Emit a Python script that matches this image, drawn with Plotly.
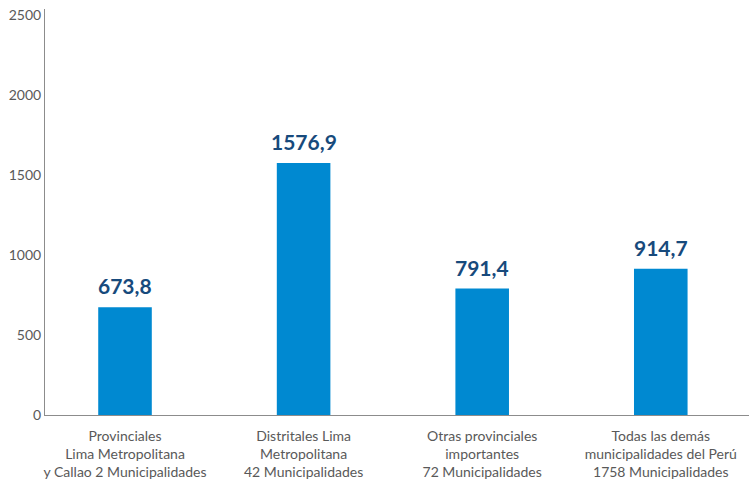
import plotly.graph_objects as go

# Average amounts per group of municipalities
categories = [
    "Provinciales<br>Lima Metropolitana<br>y Callao 2 Municipalidades",
    "Distritales Lima<br>Metropolitana<br>42 Municipalidades",
    "Otras provinciales<br>importantes<br>72 Municipalidades",
    "Todas las demás<br>municipalidades del Perú<br>1758 Municipalidades",
]
values = [673.8, 1576.9, 791.4, 914.7]
y_ticks = [0, 500, 1000, 1500, 2000, 2500]

BAR_COLOR = "#0089D1"
LABEL_COLOR = "#174A7C"
TEXT_GRAY = "#595959"
AXIS_GRAY = "#8C8C8C"
FONT = "Lato, 'Open Sans', sans-serif"

fig = go.Figure(
    go.Bar(
        x=list(range(len(categories))),
        y=values,
        width=0.3,
        marker=dict(color=BAR_COLOR, line=dict(width=0)),
        hoverinfo="skip",
    )
)

# Value labels above each bar, decimal comma
for i, v in enumerate(values):
    fig.add_annotation(
        x=i, y=v,
        text="<b>" + f"{v:.1f}".replace(".", ",") + "</b>",
        showarrow=False,
        yanchor="bottom",
        yshift=7,
        font=dict(family=FONT, size=21, color=LABEL_COLOR),
    )

fig.update_layout(
    width=749,
    height=484,
    margin=dict(l=45, r=0, t=9, b=69),
    plot_bgcolor="white",
    paper_bgcolor="white",
    showlegend=False,
    font=dict(family=FONT, color=TEXT_GRAY),
    xaxis=dict(
        range=[-0.448, 3.494],
        tickmode="array",
        tickvals=list(range(len(categories))),
        ticktext=categories,
        tickfont=dict(family=FONT, size=14, color=TEXT_GRAY),
        ticklabelstandoff=8,
        showgrid=False,
        zeroline=False,
        showline=True,
        linecolor=AXIS_GRAY,
        linewidth=1,
        ticks="",
        fixedrange=True,
    ),
    yaxis=dict(
        range=[0, 2540],
        tickmode="array",
        tickvals=y_ticks,
        ticktext=[str(t) for t in y_ticks],
        tickfont=dict(family=FONT, size=14, color=TEXT_GRAY),
        showgrid=False,
        zeroline=False,
        showline=True,
        linecolor=AXIS_GRAY,
        linewidth=1,
        ticks="",
        fixedrange=True,
    ),
)

fig.write_html("out.html", config={"displayModeBar": False})
